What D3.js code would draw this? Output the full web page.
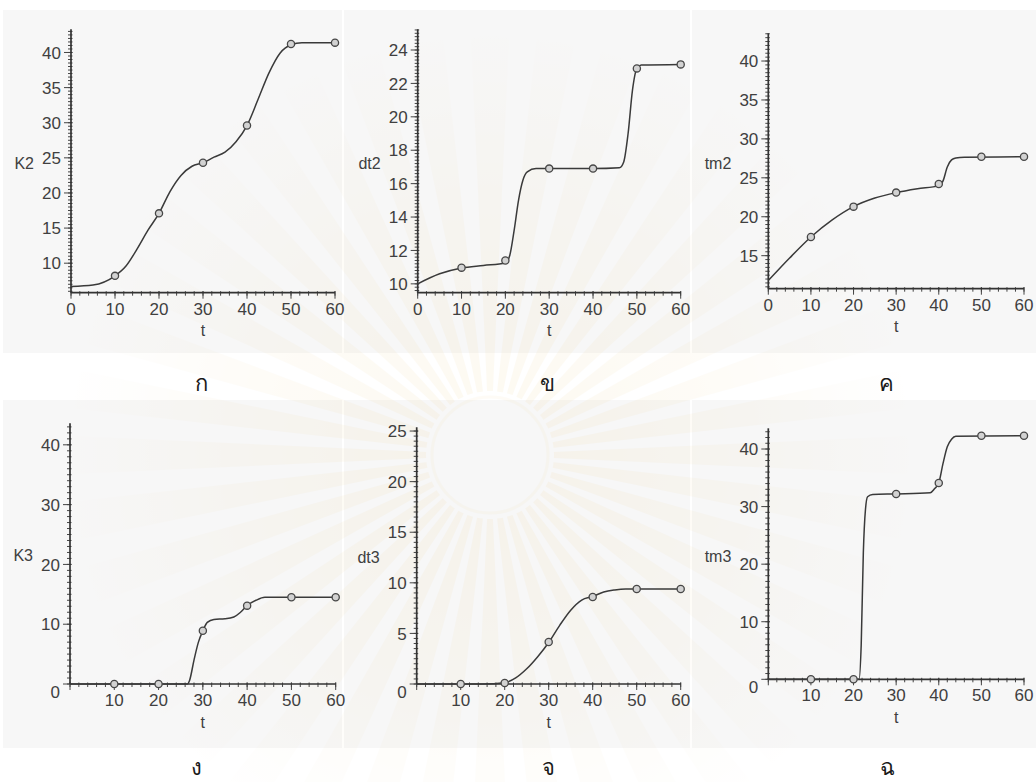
<!DOCTYPE html>
<html lang="th">
<head>
<meta charset="UTF-8">
<script src="https://d3js.org/d3.v7.min.js"></script>
<style>
body { margin: 0; background: #fff; }
svg text { font-family: "Liberation Sans", Arial, sans-serif; fill: #404040; }
.ax { stroke: #333; stroke-width: 1.7px; }
.tk { stroke: #444; stroke-width: 1px; }
.curve { fill: none; stroke: #3a3a3a; stroke-width: 1.5px; }
.pt { fill: #d2d2d2; stroke: #474747; stroke-width: 1.3px; }
.letter { font-family: "DejaVu Serif", "Noto Serif", serif; font-size: 22px; fill: #1a1a1a; }
</style>
</head>
<body>
<svg width="1036" height="782"></svg>
<script>
// sampled times of the circle markers
const ptT = [10, 20, 30, 40, 50, 60];
const xTicks = [0, 10, 20, 30, 40, 50, 60];

// K2
const k2T = [0, 5, 10, 12.5, 15, 17.5, 20, 22.5, 25, 27.5, 30, 32.5, 35, 37.5, 40, 42.5, 45, 47.5, 50, 52.5, 60];
const k2V = [6.7, 6.9, 8.2, 9.6, 12.0, 14.7, 17.1, 20.2, 22.5, 23.8, 24.3, 25.1, 25.8, 27.3, 29.6, 33.3, 37.1, 39.9, 41.1, 41.4, 41.4];
const k2Pts = [8.2, 17.1, 24.3, 29.6, 41.2, 41.4];
const k2Ticks = [10, 15, 20, 25, 30, 35, 40];

// dt2
const dt2T = [0, 5, 10, 15, 20, 21, 22, 23, 24, 25, 27, 30, 40, 46, 47, 48, 49, 50, 51, 60];
const dt2V = [10.0, 10.6, 10.95, 11.1, 11.25, 11.7, 13.2, 15.0, 16.2, 16.7, 16.9, 16.9, 16.9, 16.95, 17.3, 19.0, 21.6, 22.9, 23.1, 23.14];
const dt2Pts = [10.97, 11.4, 16.9, 16.9, 22.9, 23.14];
const dt2Ticks = [10, 12, 14, 16, 18, 20, 22, 24];

// tm2
const tm2T = [0, 5, 10, 15, 20, 25, 30, 35, 40, 41, 42, 43, 44, 46, 60];
const tm2V = [11.8, 14.7, 17.4, 19.6, 21.3, 22.4, 23.1, 23.6, 24.0, 24.6, 26.4, 27.3, 27.55, 27.65, 27.7];
const tm2Pts = [17.4, 21.3, 23.1, 24.2, 27.7, 27.7];
const tm2Ticks = [15, 20, 25, 30, 35, 40];

// K3
const k3T = [0, 26.5, 27, 28, 29, 30, 31, 32.5, 35, 37, 38.5, 40, 42, 44, 60];
const k3V = [0, 0, 0.6, 4.0, 7.0, 8.9, 10.3, 10.8, 10.9, 11.2, 12.0, 13.1, 14.0, 14.5, 14.5];
const k3Pts = [0, 0, 8.9, 13.1, 14.5, 14.5];
const k3Ticks = [0, 10, 20, 30, 40];

// dt3
const dt3T = [0, 15, 20, 22.5, 25, 27.5, 30, 32.5, 35, 37.5, 40, 42.5, 45, 47.5, 60];
const dt3V = [0, 0, 0.13, 0.6, 1.5, 2.7, 4.1, 5.8, 7.3, 8.3, 8.65, 9.1, 9.3, 9.39, 9.39];
const dt3Pts = [0, 0.1, 4.15, 8.6, 9.39, 9.39];
const dt3Ticks = [0, 5, 10, 15, 20, 25];

// tm3
const tm3T = [0, 21.3, 21.8, 22.3, 22.8, 23.3, 24.5, 30, 38, 39, 40, 41, 42, 43, 44, 60];
const tm3V = [0, 0, 6, 22, 29.5, 31.7, 32.1, 32.2, 32.4, 33.1, 34.1, 37.5, 40.4, 41.7, 42.2, 42.3];
const tm3Pts = [0, 0, 32.2, 34.1, 42.3, 42.3];
const tm3Ticks = [0, 10, 20, 30, 40];

// panel layout (pixel geometry)
const panels = [
  { name: "K2",  letter: "ก", t: k2T,  v: k2V,  pts: k2Pts,  ticks: k2Ticks,  minor: 0.5, dom: [5.8, 43.3],  x0: 71,    x1: 335,   yb: 292.7, yt: 29.3,  fromZero: false, bg: [3, 10, 342, 353] },
  { name: "dt2", letter: "ข", t: dt2T, v: dt2V, pts: dt2Pts, ticks: dt2Ticks, minor: 0.2, dom: [9.47, 25.24], x0: 417.7, x1: 680.7, yb: 292.7, yt: 29.3,  fromZero: false, bg: [344, 10, 690, 353] },
  { name: "tm2", letter: "ค", t: tm2T, v: tm2V, pts: tm2Pts, ticks: tm2Ticks, minor: 0.5, dom: [10.76, 43.56], x0: 768.3, x1: 1024, yb: 288.7, yt: 33.3,  fromZero: false, bg: [692, 10, 1036, 353] },
  { name: "K3",  letter: "ง", t: k3T,  v: k3V,  pts: k3Pts,  ticks: k3Ticks,  minor: 1,   dom: [0, 43.6],    x0: 70,    x1: 335.7, yb: 684,   yt: 423.3, fromZero: true,  bg: [3, 400, 342, 748] },
  { name: "dt3", letter: "จ", t: dt3T, v: dt3V, pts: dt3Pts, ticks: dt3Ticks, minor: 0.5, dom: [0, 25.37],   x0: 416.7, x1: 680.7, yb: 684,   yt: 427.3, fromZero: true,  bg: [344, 400, 690, 748] },
  { name: "tm3", letter: "ฉ", t: tm3T, v: tm3V, pts: tm3Pts, ticks: tm3Ticks, minor: 1,   dom: [0, 43.6],    x0: 768.3, x1: 1024,  yb: 679.3, yt: 428.3, fromZero: true,  bg: [692, 400, 1036, 748] }
];
const letterPos = [[201.7, 383], [547.7, 383], [886.7, 383], [196.7, 767], [548, 767], [887.7, 767]];

const svg = d3.select("svg");

// panel backgrounds
svg.append("g").selectAll("rect").data(panels).join("rect")
  .attr("x", d => d.bg[0]).attr("y", d => d.bg[1])
  .attr("width", d => d.bg[2] - d.bg[0]).attr("height", d => d.bg[3] - d.bg[1])
  .attr("fill", "#f7f7f7");

// very faint watermark (sun rays emblem)
const defs = svg.append("defs");
const grad = defs.append("radialGradient").attr("id", "rayGrad")
  .attr("gradientUnits", "userSpaceOnUse").attr("cx", 0).attr("cy", 0).attr("r", 420);
grad.append("stop").attr("offset", "0.15").attr("stop-color", "#f1cf80").attr("stop-opacity", 0.45);
grad.append("stop").attr("offset", "0.6").attr("stop-color", "#f1cf80").attr("stop-opacity", 0.25);
grad.append("stop").attr("offset", "1").attr("stop-color", "#f1cf80").attr("stop-opacity", 0);
const wm = svg.append("g").attr("transform", "translate(490,455)").attr("opacity", 0.22);
wm.selectAll("path").data(d3.range(0, 360, 9)).join("path")
  .attr("d", a => d3.arc()({ innerRadius: 64, outerRadius: 420, startAngle: (a - 2.6) * Math.PI / 180, endAngle: (a + 2.6) * Math.PI / 180 }))
  .attr("fill", "url(#rayGrad)");
wm.append("circle").attr("r", 58).attr("fill", "none").attr("stroke", "#f1cf80").attr("stroke-opacity", 0.3).attr("stroke-width", 3);

panels.forEach((p, i) => {
  const x = d3.scaleLinear().domain([0, 60]).range([p.x0, p.x1]);
  const y = d3.scaleLinear().domain(p.dom).range([p.yb, p.yt]);
  const g = svg.append("g");

  // y minor ticks
  const minorY = d3.range(Math.ceil(p.dom[0] / p.minor) * p.minor, p.dom[1], p.minor);
  g.selectAll(".my").data(minorY).join("line").attr("class", "tk")
    .attr("x1", p.x0 - 3).attr("x2", p.x0 + 1.5)
    .attr("y1", d => y(d)).attr("y2", d => y(d));
  // y major ticks
  g.selectAll(".My").data(p.ticks).join("line").attr("class", "tk")
    .attr("x1", p.x0 - 7).attr("x2", p.x0 + 1.5)
    .attr("y1", d => y(d)).attr("y2", d => y(d));
  // x minor ticks
  g.selectAll(".mx").data(d3.range(0, 61, 2)).join("line").attr("class", "tk")
    .attr("x1", d => x(d)).attr("x2", d => x(d))
    .attr("y1", p.yb - 1.5).attr("y2", p.yb + 3);
  g.selectAll(".Mx").data(xTicks).join("line").attr("class", "tk")
    .attr("x1", d => x(d)).attr("x2", d => x(d))
    .attr("y1", p.yb - 1.5).attr("y2", p.yb + 6);

  // axes
  g.append("line").attr("class", "ax").attr("x1", p.x0).attr("x2", p.x1).attr("y1", p.yb).attr("y2", p.yb);
  g.append("line").attr("class", "ax").attr("x1", p.x0).attr("x2", p.x0).attr("y1", p.yb).attr("y2", p.yt);

  // y tick labels
  g.selectAll(".yl").data(p.ticks).join("text")
    .attr("x", p.x0 - 10)
    .attr("y", d => (p.fromZero && d === 0) ? y(d) + 8 : y(d))
    .attr("dy", "0.36em").attr("text-anchor", "end").attr("font-size", 17)
    .text(d => d);
  // x tick labels
  g.selectAll(".xl").data(p.fromZero ? xTicks.slice(1) : xTicks).join("text")
    .attr("x", d => x(d)).attr("y", p.yb + 16)
    .attr("dy", "0.36em").attr("text-anchor", "middle").attr("font-size", 17)
    .text(d => d);

  // axis titles
  g.append("text").attr("x", p.x0 - 37).attr("y", (p.yb + p.yt) / 2 + 2)
    .attr("dy", "0.36em").attr("text-anchor", "end").attr("font-size", 16).text(p.name);
  g.append("text").attr("x", x(30)).attr("y", p.yb + 38)
    .attr("dy", "0.36em").attr("text-anchor", "middle").attr("font-size", 16).text("t");

  // curve
  const line = d3.line().x(d => x(d[0])).y(d => y(d[1])).curve(d3.curveMonotoneX);
  g.append("path").attr("class", "curve").attr("d", line(p.t.map((t, j) => [t, p.v[j]])));

  // circle markers
  g.selectAll(".pt").data(ptT.map((t, j) => [t, p.pts[j]])).join("circle")
    .attr("class", "pt").attr("r", 3.6)
    .attr("cx", d => x(d[0])).attr("cy", d => y(d[1]));

  // panel letter
  svg.append("text").attr("class", "letter")
    .attr("x", letterPos[i][0]).attr("y", letterPos[i][1])
    .attr("dy", "0.35em").attr("text-anchor", "middle").text(p.letter);
});
</script>
</body>
</html>
